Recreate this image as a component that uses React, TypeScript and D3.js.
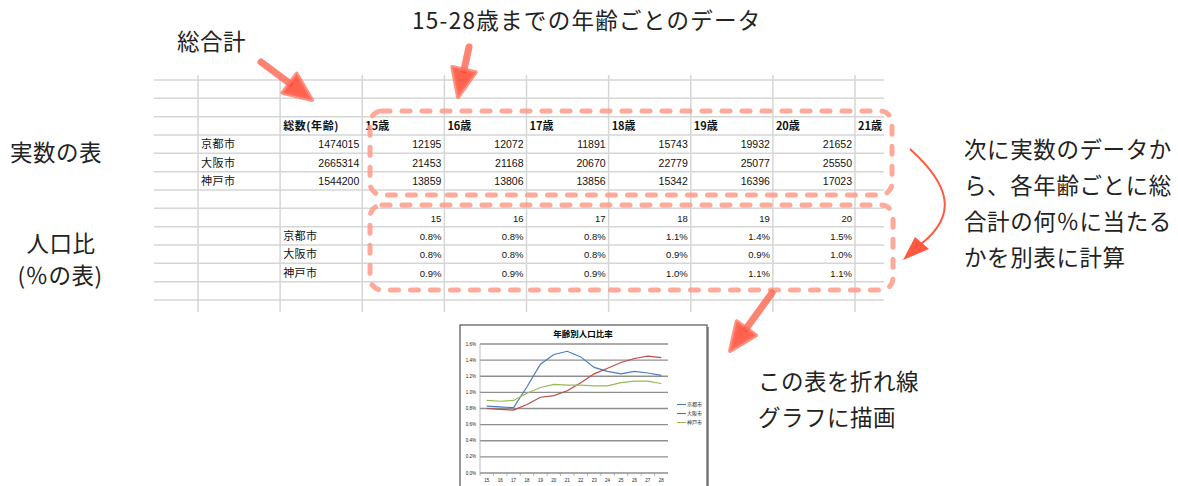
import React from "react";
import * as d3 from "d3";

// 実数の表
const cities = ["京都市", "大阪市", "神戸市"];
const totals = [1474015, 2665314, 1544200];
const headerAges = [15, 16, 17, 18, 19, 20, 21];
const tableAges = [15, 16, 17, 18, 19, 20];
const kyotoCounts = [12195, 12072, 11891, 15743, 19932, 21652];
const osakaCounts = [21453, 21168, 20670, 22779, 25077, 25550];
const kobeCounts = [13859, 13806, 13856, 15342, 16396, 17023];

// 人口比 (%の表)
const kyotoRatio = [0.8, 0.8, 0.8, 1.1, 1.4, 1.5];
const osakaRatio = [0.8, 0.8, 0.8, 0.9, 0.9, 1.0];
const kobeRatio = [0.9, 0.9, 0.9, 1.0, 1.1, 1.1];

// 年齢別人口比率 (折れ線グラフ)
const chartAges = [15, 16, 17, 18, 19, 20, 21, 22, 23, 24, 25, 26, 27, 28];
const kyotoLine = [0.83, 0.82, 0.81, 1.07, 1.35, 1.47, 1.51, 1.44, 1.31, 1.26, 1.23, 1.26, 1.24, 1.21];
const osakaLine = [0.8, 0.79, 0.78, 0.85, 0.94, 0.96, 1.02, 1.12, 1.23, 1.3, 1.37, 1.42, 1.45, 1.43];
const kobeLine = [0.9, 0.89, 0.9, 0.99, 1.06, 1.1, 1.09, 1.09, 1.08, 1.08, 1.12, 1.14, 1.14, 1.11];
const yTicks = [0, 0.2, 0.4, 0.6, 0.8, 1.0, 1.2, 1.4, 1.6];

const counts = [kyotoCounts, osakaCounts, kobeCounts];
const ratios = [kyotoRatio, osakaRatio, kobeRatio];
const lines = [kyotoLine, osakaLine, kobeLine];
const lineColors = ["#4a7ebb", "#be4b48", "#98b954"];

const JP = "'Noto Sans CJK JP', 'Noto Sans', sans-serif";
const NUM = "'Liberation Sans', Arial, sans-serif";

const colX = d3.scaleLinear().domain([0, 8]).range([198, 855]);
const rowY = d3.scaleLinear().domain([0, 12]).range([80, 300]);
const rowMid = (i: number) => (rowY(i) + rowY(i + 1)) / 2 + 4;

const Arrow = ({ x1, y1, x2, y2, head = 28, half = 12 }: any) => {
  const dx = x2 - x1;
  const dy = y2 - y1;
  const len = Math.sqrt(dx * dx + dy * dy);
  const ux = dx / len;
  const uy = dy / len;
  const bx = x2 - ux * head;
  const by = y2 - uy * head;
  const pts = [
    [x2, y2],
    [bx - uy * half, by + ux * half],
    [bx + uy * half, by - ux * half],
  ];
  return (
    <g>
      <line x1={x1} y1={y1} x2={bx} y2={by} stroke="#ff6450" strokeOpacity={0.8} strokeWidth={7} strokeLinecap="round" />
      <polygon
        points={pts.map((p) => p.join(",")).join(" ")}
        fill="#ff3b22"
        fillOpacity={0.8}
        stroke="#ff705c"
        strokeOpacity={0.75}
        strokeWidth={4}
        strokeLinejoin="round"
      />
    </g>
  );
};

const LineChart = () => {
  const left = 460;
  const top = 325;
  const x = d3.scaleBand<number>().domain(chartAges).range([480, 668]);
  const y = d3.scaleLinear().domain([0, 1.6]).range([473, 344]);
  const line = d3
    .line<number>()
    .x((_, i) => (x(chartAges[i]) as number) + x.bandwidth() / 2)
    .y((d) => y(d));
  return (
    <g>
      <rect x={left + 2} y={top + 2} width={247} height={170} fill="#9a9a9a" />
      <rect x={left} y={top} width={247} height={170} fill="#fff" stroke="#555" strokeWidth={1.2} />
      <text x={583} y={337} textAnchor="middle" fontFamily={JP} fontWeight="bold" fontSize={8.5}>
        年齢別人口比率
      </text>
      {yTicks.map((t) => (
        <g key={t}>
          <line x1={480} x2={668} y1={y(t)} y2={y(t)} stroke="#8f8f8f" strokeWidth={1.3} />
          <text x={476} y={y(t) + 1.6} textAnchor="end" fontFamily={NUM} fontSize={4.5} fill="#222">
            {t.toFixed(1) + "%"}
          </text>
        </g>
      ))}
      <line x1={480} x2={480} y1={344} y2={473} stroke="#aaa" strokeWidth={0.8} />
      {chartAges.map((a) => (
        <g key={a}>
          <line x1={x(a) as number} x2={x(a) as number} y1={473} y2={476} stroke="#888" strokeWidth={0.6} />
          <text x={(x(a) as number) + x.bandwidth() / 2} y={481.5} textAnchor="middle" fontFamily={NUM} fontSize={4.5} fill="#222">
            {a}
          </text>
        </g>
      ))}
      {lines.map((s, i) => (
        <path key={i} d={line(s) as string} fill="none" stroke={lineColors[i]} strokeWidth={1.2} />
      ))}
      {cities.map((c, i) => (
        <g key={c}>
          <line x1={677} x2={686} y1={404.5 + i * 9} y2={404.5 + i * 9} stroke={lineColors[i]} strokeWidth={1.1} />
          <text x={687} y={406.3 + i * 9} fontFamily={JP} fontSize={5} fill="#222">
            {c}
          </text>
        </g>
      ))}
    </g>
  );
};

const App = () => {
  const hLines = d3.range(0, 13);
  const vLines = d3.range(0, 9);
  return (
    <svg width={1178} height={486} style={{ position: "absolute", left: 0, top: 0, background: "#fff" }}>
      {/* 表の罫線 */}
      {hLines.map((i) => (
        <line key={"h" + i} x1={154} x2={884} y1={rowY(i)} y2={rowY(i)} stroke="#d6d6d6" strokeWidth={1.5} />
      ))}
      {vLines.map((j) => (
        <line key={"v" + j} x1={colX(j)} x2={colX(j)} y1={75} y2={312} stroke="#d6d6d6" strokeWidth={1.5} />
      ))}

      {/* 実数の表 */}
      <g fontFamily={JP} fontSize={11} fill="#111">
        <text x={colX(1) + 3} y={rowMid(2)} fontWeight="bold" letterSpacing={0.6}>総数(年齢)</text>
        {headerAges.map((a, k) => (
          <text key={a} x={colX(2 + k) + 3} y={rowMid(2)} fontWeight="bold">
            {a + "歳"}
          </text>
        ))}
        {cities.map((c, i) => (
          <g key={c}>
            <text x={colX(0) + 3} y={rowMid(3 + i)} letterSpacing={0.5}>{c}</text>
            <text x={colX(2) - 3} y={rowMid(3 + i)} textAnchor="end" fontFamily={NUM} fontSize={10.5}>
              {totals[i]}
            </text>
            {tableAges.map((a, k) => (
              <text key={a} x={colX(3 + k) - 3} y={rowMid(3 + i)} textAnchor="end" fontFamily={NUM} fontSize={10.5}>
                {counts[i][k]}
              </text>
            ))}
          </g>
        ))}
      </g>

      {/* 人口比の表 */}
      <g fontFamily={NUM} fontSize={9.5} fill="#111">
        {tableAges.map((a, k) => (
          <text key={a} x={colX(3 + k) - 3} y={rowMid(7)} textAnchor="end">
            {a}
          </text>
        ))}
        {cities.map((c, i) => (
          <g key={c}>
            <text x={colX(1) + 3} y={rowMid(8 + i)} fontFamily={JP} fontSize={11} letterSpacing={0.5}>
              {c}
            </text>
            {tableAges.map((a, k) => (
              <text key={a} x={colX(3 + k) - 3} y={rowMid(8 + i)} textAnchor="end">
                {ratios[i][k].toFixed(1) + "%"}
              </text>
            ))}
          </g>
        ))}
      </g>

      {/* 点線の枠 */}
      <g fill="none" stroke="#ff9a88" strokeOpacity={0.85} strokeWidth={5} strokeDasharray="8 12" strokeLinecap="round">
        <rect x={370} y={111} width={522} height={84} rx={12} />
        <rect x={370} y={205} width={523} height={85} rx={12} />
      </g>

      {/* 矢印 */}
      <Arrow x1={261} y1={62} x2={312} y2={100} />
      <Arrow x1={469} y1={47} x2={458} y2={97} />
      <Arrow x1={772} y1={293} x2={730} y2={351} />
      <path d="M 910 149 C 950 185, 958 215, 921 244" fill="none" stroke="#ff5a40" strokeWidth={2} />
      <polygon points="903,260 915,237 929,249" fill="#ff5a40" />

      {/* 説明文 */}
      <g fontFamily={JP} fontSize={22.5} fill="#222">
        <text x={177} y={50} letterSpacing={0.5}>総合計</text>
        <text x={412} y={29} letterSpacing={1.3}>15-28歳までの年齢ごとのデータ</text>
        <text x={10} y={161} letterSpacing={0.5}>実数の表</text>
        <text x={61} y={252} textAnchor="middle" letterSpacing={0.5}>人口比</text>
        <text x={60} y={284} textAnchor="middle" letterSpacing={0.5}>(％の表)</text>
        {["次に実数のデータか", "ら、各年齢ごとに総", "合計の何％に当たる", "かを別表に計算"].map((t, i) => (
          <text key={i} x={964} y={158 + i * 36} letterSpacing={0.6}>
            {t}
          </text>
        ))}
        <text x={758} y={390} letterSpacing={0.5}>この表を折れ線</text>
        <text x={758} y={426} letterSpacing={0.5}>グラフに描画</text>
      </g>

      <LineChart />
    </svg>
  );
};

export default App;
